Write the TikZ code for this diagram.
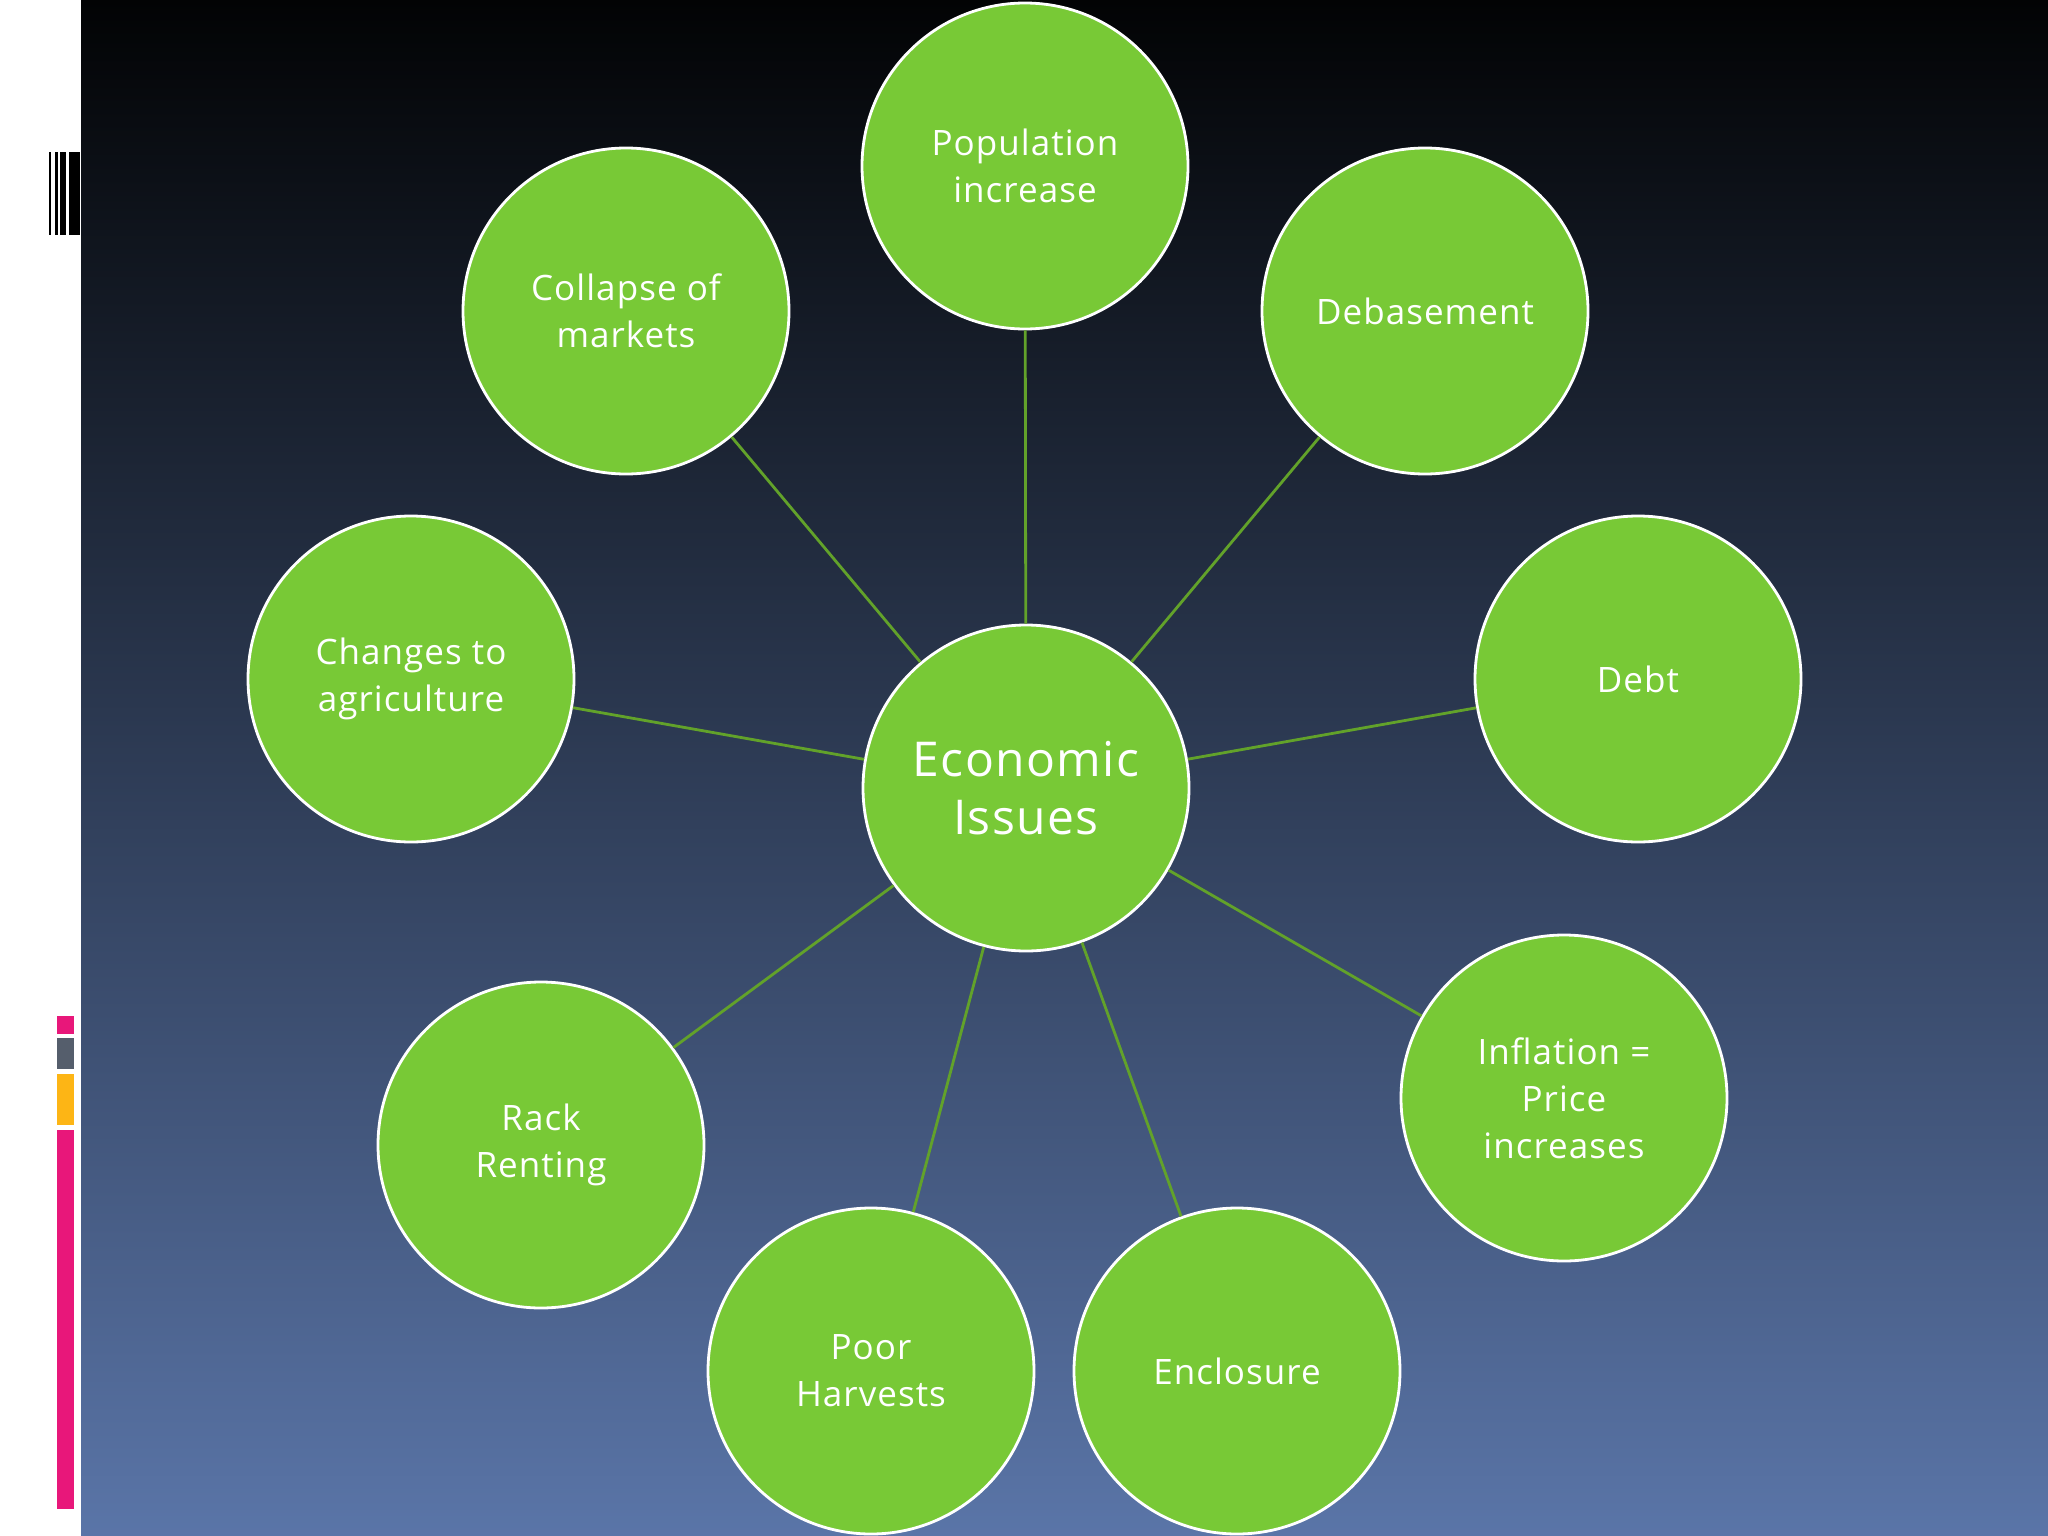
\documentclass[tikz,border=0pt]{standalone}
\usepackage{fontspec}
\setmainfont{Open Sans}[LetterSpace=3]
\definecolor{bubble}{HTML}{78C936}
\definecolor{link}{HTML}{62A22A}
\definecolor{bgtop}{HTML}{020304}
\definecolor{bgbot}{HTML}{5A75A8}
\definecolor{mpink}{HTML}{E8177A}
\definecolor{mgray}{HTML}{555E6C}
\definecolor{myellow}{HTML}{FDB515}
\begin{document}
\begin{tikzpicture}[x=1pt,y=-1pt,
  bub/.style={circle,fill=bubble,draw=white,line width=2.8pt,minimum size=326pt,inner sep=0pt,
    text=white,align=center,font=\fontsize{35}{47}\selectfont},
  hub/.style={bub,font=\fontsize{48}{58}\selectfont},
  lnk/.style={draw=link,line width=2.8pt}]
\useasboundingbox (0,0) rectangle (2048,1536);
\fill[white] (0,0) rectangle (81,1536);
\shade[top color=bgtop,bottom color=bgbot] (81,0) rectangle (2048,1536);
% barcode mark
\fill[black] (49,152) rectangle (51,235);
\fill[black] (55,152) rectangle (58,235);
\fill[black] (60,152) rectangle (66,235);
\fill[black] (69,152) rectangle (80,235);
% side bars
\fill[mpink] (57,1016) rectangle (74,1034);
\fill[mgray] (57,1038) rectangle (74,1069);
\fill[myellow] (57,1074) rectangle (74,1125);
\fill[mpink] (57,1130) rectangle (74,1509);
% nodes
\node[hub] (c) at (1026,788) {Economic\\Issues};
\node[bub] (pop) at (1025,166) {Population\\increase};
\node[bub] (deb) at (1425,311) {Debasement};
\node[bub] (debt) at (1638,679) {Debt};
\node[bub] (inf) at (1564,1098) {Inflation =\\Price\\increases};
\node[bub] (enc) at (1237,1371) {Enclosure};
\node[bub] (poor) at (871,1371) {Poor\\Harvests};
\node[bub] (rack) at (541,1145) {Rack\\Renting};
\node[bub] (chg) at (411,679) {Changes to\\agriculture};
\node[bub] (col) at (626,311) {Collapse of\\markets};
% links
\foreach \n in {pop,deb,debt,inf,enc,poor,rack,chg,col}{
  \draw[lnk] (c) -- (\n);
}
\end{tikzpicture}
\end{document}
